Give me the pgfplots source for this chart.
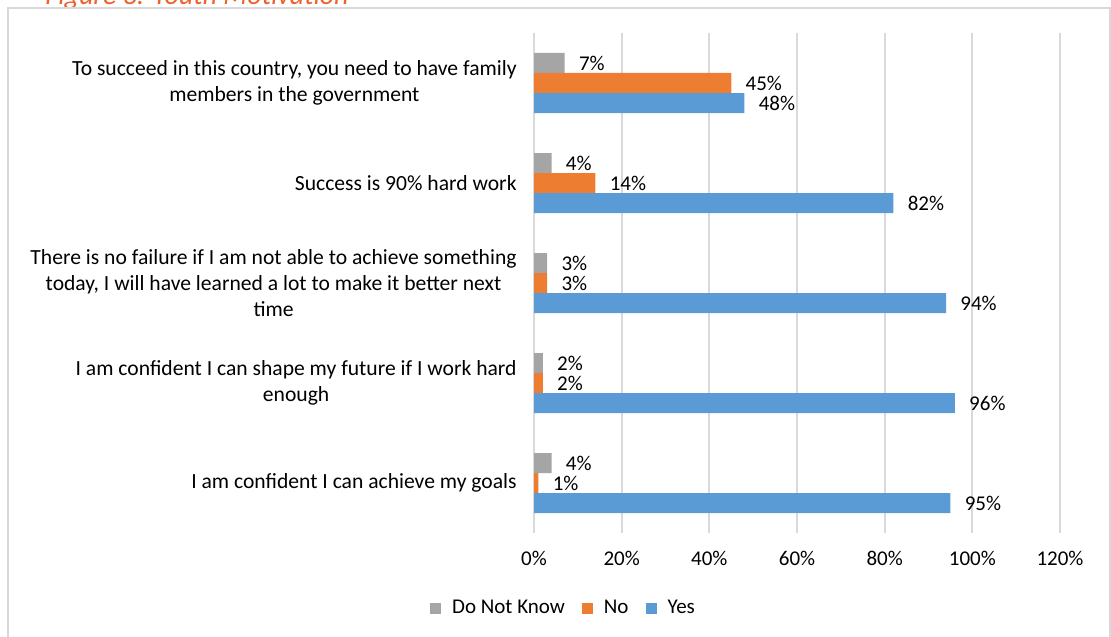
\documentclass[border=0pt]{standalone}
\usepackage{pgfplots}
\pgfplotsset{compat=1.18}
\usepackage{fontspec}
\setmainfont{Carlito}
\definecolor{cgray}{HTML}{A5A5A5}
\definecolor{corange}{HTML}{ED7D31}
\definecolor{cblue}{HTML}{5B9BD5}
\definecolor{cgrid}{HTML}{D9D9D9}
\definecolor{ctitle}{HTML}{F0602A}
\begin{document}
\begin{tikzpicture}
\useasboundingbox (0,0) rectangle (555.5pt,-318pt);
\node[anchor=base west, inner sep=0pt, font=\fontsize{14}{16}\selectfont\itshape, text=ctitle] at (22.5pt,-2.5pt) {Figure 3: Youth Motivation};
\draw[cgrid, line width=1pt] (4pt,-320pt) -- (4pt,-4pt) -- (555pt,-4pt) -- (555pt,-320pt);
\begin{axis}[
  at={(267pt,-266.5pt)}, anchor=south west,
  scale only axis, width=263pt, height=250pt,
  xmin=0, xmax=120, ymin=-0.5, ymax=4.5,
  xtick={0,20,...,120},
  xticklabel={\pgfmathprintnumber{\tick}\%},
  ytick={0,1,2,3,4},
  yticklabels={
    {I am confident I can achieve my goals},
    {I am confident I can shape my future if I work hard\\enough},
    {There is no failure if I am not able to achieve something\\today, I will have learned a lot to make it better next\\time},
    {Success is 90\% hard work},
    {To succeed in this country, you need to have family\\members in the government}},
  yticklabel style={align=center, inner sep=0pt, xshift=-8.5pt, font=\fontsize{10.8}{13}\selectfont, text=black},
  xticklabel style={inner sep=0pt, yshift=-9pt, font=\fontsize{10.5}{12}\selectfont, text=black},
  /pgf/number format/assume math mode=true,
  major tick length=0pt,
  axis line style={draw=none},
  xmajorgrids, grid style={cgrid, line width=1pt},
  xbar, bar width=10pt,
  nodes near coords={\pgfmathprintnumber{\pgfplotspointmeta}\%},
  every node near coord/.append style={anchor=west, inner sep=0pt, xshift=7pt, font=\fontsize{10.5}{12}\selectfont, text=black},
  point meta=explicit symbolic,
  every axis plot post/.append style={legend image code/.code={\fill[##1] (0pt,-2.75pt) rectangle (5.5pt,2.75pt);}},
  legend columns=3,
  legend style={at={(rel axis cs:0.058,-0.15)}, anchor=center, draw=none, fill=none,
    font=\fontsize{10.5}{12}\selectfont, column sep=0pt,
    /tikz/every odd column/.style={column sep=3.5pt},
    /tikz/every even column/.style={column sep=6.5pt}},
  clip=false,
]
\addplot[fill=cgray, draw=none, bar shift=10pt] coordinates {(4,0)[4] (2,1)[2] (3,2)[3] (4,3)[4] (7,4)[7]};
\addplot[fill=corange, draw=none, bar shift=0pt] coordinates {(1,0)[1] (2,1)[2] (3,2)[3] (14,3)[14] (45,4)[45]};
\addplot[fill=cblue, draw=none, bar shift=-10pt] coordinates {(95,0)[95] (96,1)[96] (94,2)[94] (82,3)[82] (48,4)[48]};
\legend{Do Not Know, No, Yes}
\end{axis}
\end{tikzpicture}
\end{document}
